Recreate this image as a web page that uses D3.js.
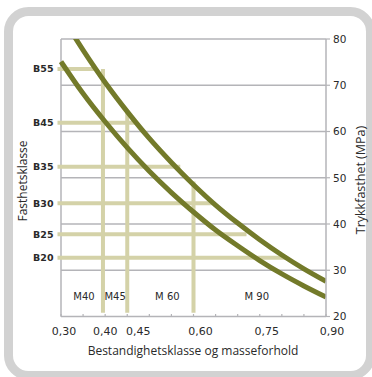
<!DOCTYPE html>
<html>
<head>
<meta charset="utf-8">
<script src="https://cdn.jsdelivr.net/npm/d3@7"></script>
<style>
  html, body { margin: 0; padding: 0; background: #fff; }
  svg { display: block; }
  text { fill: #2a2a2a; }
</style>
</head>
<body>
<svg id="chart" width="372" height="377"></svg>
<script>
// Water/cement ratio (x) against compressive strength (MPa)
const ratioGrid = [0.30, 0.35, 0.40, 0.45, 0.50, 0.55, 0.60, 0.65, 0.70, 0.75, 0.80, 0.85, 0.90];
const upperStrength = [85.2, 77.6, 70.6, 64.3, 58.5, 53.3, 48.5, 44.1, 40.2, 36.6, 33.3, 30.3, 27.6];
const lowerStrength = [75.1, 68.2, 62.1, 56.5, 51.4, 46.8, 42.6, 38.7, 35.3, 32.1, 29.2, 26.6, 24.2];

// Strength classes: reference level (MPa) and ratio where the guide line stops
const strengthClasses = ["B55", "B45", "B35", "B30", "B25", "B20"];
const classLevel = [73.5, 61.9, 52.4, 44.5, 37.8, 32.7];
const classEnd = [0.38, 0.467, 0.57, 0.645, 0.72, 0.81];

// Durability classes and their max. water/cement ratio
const durabilityClasses = ["M40", "M45", "M 60", "M 90"];
const durabilityRatio = [0.395, 0.45, 0.60, 0.90];
const durabilityTop = [73.5, 64.6, 49.2];

// Axis ticks
const xTickValues = [0.30, 0.40, 0.45, 0.60, 0.75, 0.90];
const xTickLabels = ["0,30", "0,40", "0,45", "0,60", "0,75", "0,90"];
const yTickValues = [20, 30, 40, 50, 60, 70, 80];

const svg = d3.select("#chart");

// Rounded card frame
svg.append("rect")
  .attr("x", 8.5).attr("y", 11.5)
  .attr("width", 362).attr("height", 364)
  .attr("rx", 20).attr("ry", 20)
  .attr("fill", "#fff")
  .attr("stroke", "#d2d2d2")
  .attr("stroke-width", 9);

const plot = { left: 61, right: 326, top: 39, bottom: 316.5 };

const x = d3.scaleLinear().domain([0.30, 0.90]).range([plot.left, plot.right]);
const y = d3.scaleLinear().domain([20, 80]).range([plot.bottom, plot.top]);

const gridColor = "#b4b4b8";
const guideColor = "#d4d2a8";
const curveColor = "#737a2a";

// Horizontal gridlines
svg.append("g")
  .selectAll("line")
  .data(yTickValues.filter(v => v > 20))
  .join("line")
  .attr("x1", plot.left).attr("x2", plot.right)
  .attr("y1", d => y(d)).attr("y2", d => y(d))
  .attr("stroke", gridColor).attr("stroke-width", 1.5);

// Left frame of plot
svg.append("line")
  .attr("x1", plot.left).attr("x2", plot.left)
  .attr("y1", plot.top).attr("y2", plot.bottom)
  .attr("stroke", gridColor).attr("stroke-width", 1.5);

// Strength-class guide lines
const guides = svg.append("g");
guides.selectAll("line.h")
  .data(strengthClasses)
  .join("line")
  .attr("class", "h")
  .attr("x1", x(0.30) - 3.5)
  .attr("x2", (d, i) => x(classEnd[i]))
  .attr("y1", (d, i) => y(classLevel[i]))
  .attr("y2", (d, i) => y(classLevel[i]))
  .attr("stroke", guideColor).attr("stroke-width", 4);

// Durability-class guide lines
guides.selectAll("line.v")
  .data(durabilityTop)
  .join("line")
  .attr("class", "v")
  .attr("x1", (d, i) => x(durabilityRatio[i]))
  .attr("x2", (d, i) => x(durabilityRatio[i]))
  .attr("y1", d => y(d))
  .attr("y2", y(20.8))
  .attr("stroke", guideColor).attr("stroke-width", 4);

// Curves, clipped to the plot area
svg.append("clipPath").attr("id", "plotClip")
  .append("rect")
  .attr("x", plot.left - 2).attr("y", plot.top)
  .attr("width", plot.right - plot.left + 2).attr("height", plot.bottom - plot.top);

const line = d3.line()
  .x(d => x(d[0]))
  .y(d => y(d[1]))
  .curve(d3.curveMonotoneX);

const curves = svg.append("g").attr("clip-path", "url(#plotClip)");
[upperStrength, lowerStrength].forEach(series => {
  curves.append("path")
    .datum(ratioGrid.map((r, i) => [r, series[i]]))
    .attr("d", line)
    .attr("fill", "none")
    .attr("stroke", curveColor)
    .attr("stroke-width", 5);
});

// Bottom axis
const xAxis = svg.append("g")
  .attr("transform", `translate(0,${plot.bottom})`);
xAxis.append("line")
  .attr("x1", plot.left).attr("x2", plot.right)
  .attr("stroke", gridColor).attr("stroke-width", 1.5);
xAxis.selectAll("line.tick")
  .data(d3.range(0, 13).map(i => 0.30 + i * 0.05))
  .join("line")
  .attr("class", "tick")
  .attr("x1", d => x(d)).attr("x2", d => x(d))
  .attr("y1", 0).attr("y2", -2.5)
  .attr("stroke", gridColor).attr("stroke-width", 1.2);

const xLabelShift = [3, 0, 11, 7, 7, 6];
xAxis.selectAll("text")
  .data(xTickValues)
  .join("text")
  .attr("x", (d, i) => x(d) + xLabelShift[i])
  .attr("y", 18)
  .attr("text-anchor", "middle")
  .attr("font-family", "DejaVu Sans, sans-serif")
  .attr("font-size", 11)
  .text((d, i) => xTickLabels[i]);

// Right axis
const yAxis = svg.append("g")
  .attr("transform", `translate(${plot.right},0)`);
yAxis.append("line")
  .attr("y1", plot.top).attr("y2", plot.bottom)
  .attr("stroke", gridColor).attr("stroke-width", 1.5);
yAxis.selectAll("line.tick")
  .data(yTickValues)
  .join("line")
  .attr("class", "tick")
  .attr("x1", 0).attr("x2", 4)
  .attr("y1", d => y(d)).attr("y2", d => y(d))
  .attr("stroke", gridColor).attr("stroke-width", 1.2);
yAxis.selectAll("text")
  .data(yTickValues)
  .join("text")
  .attr("x", 7)
  .attr("y", d => y(d))
  .attr("dy", "0.36em")
  .attr("font-family", "DejaVu Sans, sans-serif")
  .attr("font-size", 10.5)
  .text(d => d);

// Strength class labels
svg.append("g")
  .selectAll("text")
  .data(strengthClasses)
  .join("text")
  .attr("x", 53.5)
  .attr("y", (d, i) => y(classLevel[i]))
  .attr("dy", "0.36em")
  .attr("text-anchor", "end")
  .attr("font-family", "DejaVu Sans, sans-serif")
  .attr("font-size", 9.5)
  .attr("font-weight", "bold")
  .attr("fill", "#2a2a2a")
  .text(d => d);

// Durability class labels, centred between class limits
const labelShift = [2, 0, 7, -3];
svg.append("g")
  .selectAll("text")
  .data(durabilityClasses)
  .join("text")
  .attr("x", (d, i) => {
    const lo = i === 0 ? 0.30 : durabilityRatio[i - 1];
    return (x(lo) + x(durabilityRatio[i])) / 2 + labelShift[i];
  })
  .attr("y", 299.5)
  .attr("text-anchor", "middle")
  .attr("font-family", "DejaVu Sans, sans-serif")
  .attr("font-size", 10)
  .text(d => d);

// Axis titles
svg.append("text")
  .attr("x", 193).attr("y", 354.5)
  .attr("text-anchor", "middle")
  .attr("font-family", "Open Sans, sans-serif")
  .attr("font-size", 12)
  .text("Bestandighetsklasse og masseforhold");

svg.append("text")
  .attr("transform", "translate(26.5,181) rotate(-90)")
  .attr("text-anchor", "middle")
  .attr("font-family", "Open Sans, sans-serif")
  .attr("font-size", 12)
  .text("Fasthetsklasse");

svg.append("text")
  .attr("transform", "translate(364.5,180) rotate(-90)")
  .attr("text-anchor", "middle")
  .attr("font-family", "Open Sans, sans-serif")
  .attr("font-size", 12.5)
  .text("Trykkfasthet (MPa)");
</script>
</body>
</html>
